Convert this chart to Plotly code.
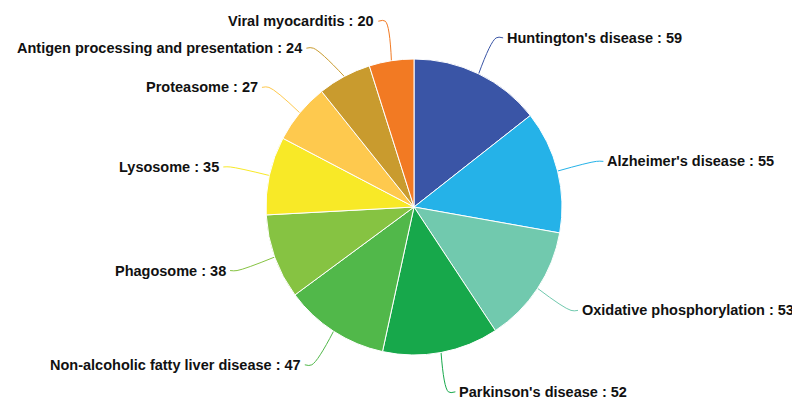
import math
import plotly.graph_objects as go

labels = ["Huntington's disease", "Alzheimer's disease", "Oxidative phosphorylation",
          "Parkinson's disease", "Non-alcoholic fatty liver disease", "Phagosome",
          "Lysosome", "Proteasome", "Antigen processing and presentation", "Viral myocarditis"]
values = [59, 55, 53, 52, 47, 38, 35, 27, 24, 20]
colors = ["#3a55a6", "#25b2e8", "#71c9ae", "#17a84b", "#51b84a", "#86c342",
          "#f8e927", "#fec94e", "#c99b2e", "#f27a23"]

W, H = 800, 400
OFF = 8                      # page body margin: figure is drawn 8px right/down in the page
CX, CY, R = 414, 207, 148    # pie centre/radius in page pixels
L1 = 40      # radial extension of leader line
L2 = 7       # horizontal part
GAP = 27     # minimum vertical gap between labels

fig = go.Figure()
fig.add_trace(go.Pie(
    labels=labels, values=values, sort=False, direction="clockwise", rotation=0,
    marker=dict(colors=colors, line=dict(color="white", width=1)),
    textinfo="none", hoverinfo="label+value", showlegend=False,
    domain=dict(x=[(CX - OFF - R) / W, (CX - OFF + R) / W],
                y=[1 - (CY - OFF + R) / H, 1 - (CY - OFF - R) / H]),
))

total = sum(values)
cum = 0
items = []
for lab, v, c in zip(labels, values, colors):
    mid = (cum + v / 2) / total * 2 * math.pi
    cum += v
    s, co = math.sin(mid), math.cos(mid)
    ex, ey = CX + R * s, CY - R * co
    r2 = R + L1
    items.append(dict(lab=lab, v=v, c=c, s=s, ex=ex, ey=ey, y2=CY - r2 * co))

# simple overlap avoidance per side
for side in (1, -1):
    grp = sorted([it for it in items if (it["s"] >= 0) == (side == 1)], key=lambda d: d["y2"])
    for i in range(1, len(grp)):
        if grp[i]["y2"] - grp[i - 1]["y2"] < GAP:
            grp[i]["y2"] = grp[i - 1]["y2"] + GAP

r2 = R + L1
for it in items:
    side = 1 if it["s"] >= 0 else -1
    dy = it["y2"] - CY
    x2 = CX + side * math.sqrt(max(r2 * r2 - dy * dy, 0))
    x3 = x2 + side * L2
    fig.add_trace(go.Scatter(
        x=[it["ex"], x2, x3], y=[it["ey"], it["y2"], it["y2"]],
        mode="lines", line=dict(color=it["c"], width=1, shape="spline", smoothing=1),
        hoverinfo="skip", showlegend=False, xaxis="x", yaxis="y"))
    fig.add_annotation(
        x=x3 + side * 2, y=it["y2"], xref="x", yref="y",
        text=f"{it['lab']} : {it['v']}", showarrow=False,
        xanchor="left" if side == 1 else "right", yanchor="middle",
        font=dict(family="Liberation Sans, Arial, sans-serif", size=14.5, color="#111111", weight="bold"))

fig.update_layout(
    width=W, height=H, margin=dict(l=0, r=0, t=0, b=0),
    paper_bgcolor="white", plot_bgcolor="rgba(0,0,0,0)",
    xaxis=dict(range=[OFF, W + OFF], visible=False, fixedrange=True),
    yaxis=dict(range=[H + OFF, OFF], visible=False, fixedrange=True),
)
fig.write_html("out.html")
